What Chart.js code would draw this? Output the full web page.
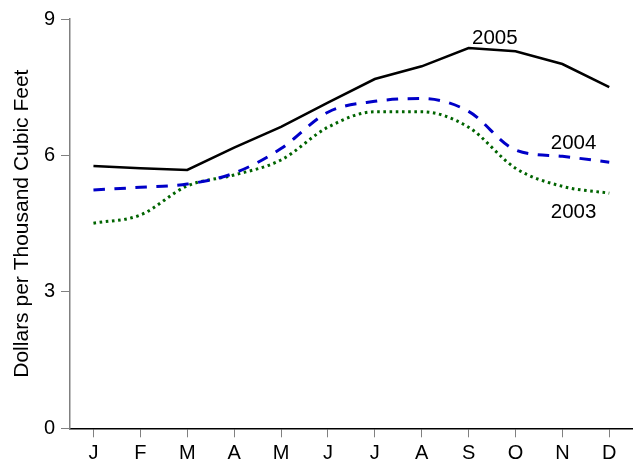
<!DOCTYPE html>
<html>
<head>
<meta charset="utf-8">
<title>Dollars per Thousand Cubic Feet</title>
<script src="https://cdn.jsdelivr.net/npm/chart.js@4"></script>
<style>
    html, body { margin: 0; padding: 0; background: #fff; }
    canvas { display: block; }
</style>
</head>
<body>
<canvas id="price-chart" width="636" height="466"></canvas>
<script>
// Chart data
const months = ['J', 'F', 'M', 'A', 'M', 'J', 'J', 'A', 'S', 'O', 'N', 'D'];
const prices2005 = [5.77, 5.72, 5.68, 6.17, 6.63, 7.16, 7.68, 7.96, 8.36, 8.29, 8.01, 7.50];
const prices2004 = [5.24, 5.30, 5.37, 5.61, 6.15, 6.95, 7.19, 7.25, 6.97, 6.12, 5.98, 5.85];
const prices2003 = [4.51, 4.69, 5.33, 5.57, 5.90, 6.62, 6.96, 6.96, 6.62, 5.72, 5.32, 5.17];
const yTicks = [0, 3, 6, 9];

// Year labels next to the lines: [text, month index, value]
const yearLabels = [
    ['2005', 8.56, 8.45],
    ['2004', 10.24, 6.14],
    ['2003', 10.24, 4.62]
];

const FONT = "'Liberation Sans', Arial, Helvetica, sans-serif";

/**
 * Draw the year labels at data coordinates
 */
const yearLabelPlugin = {
    id: 'yearLabels',
    afterDatasetsDraw: function(chart) {
        const ctx = chart.ctx;
        const xScale = chart.scales.x;
        const yScale = chart.scales.y;
        ctx.save();
        ctx.font = '20.5px ' + FONT;
        ctx.fillStyle = '#000';
        ctx.textAlign = 'center';
        ctx.textBaseline = 'alphabetic';
        yearLabels.forEach(function(item) {
            ctx.fillText(item[0], xScale.getPixelForValue(item[1]), yScale.getPixelForValue(item[2]));
        });
        ctx.restore();
    }
};

const ctx = document.getElementById('price-chart').getContext('2d');

new Chart(ctx, {
    type: 'line',
    data: {
        labels: months,
        datasets: [{
            label: '2005',
            data: prices2005,
            borderColor: '#000000',
            borderWidth: 2.5,
            tension: 0,
            pointRadius: 0
        }, {
            label: '2004',
            data: prices2004,
            borderColor: '#0000c8',
            borderWidth: 3,
            borderDash: [11.5, 9.5],
            cubicInterpolationMode: 'monotone',
            pointRadius: 0
        }, {
            label: '2003',
            data: prices2003,
            borderColor: '#006400',
            borderWidth: 3,
            borderDash: [2.6, 3.6],
            cubicInterpolationMode: 'monotone',
            pointRadius: 0
        }]
    },
    options: {
        responsive: false,
        animation: false,
        layout: {
            padding: { left: 0, top: 19, right: 3.3, bottom: 0 }
        },
        plugins: {
            legend: { display: false },
            tooltip: { enabled: false }
        },
        scales: {
            x: {
                offset: true,
                grid: {
                    drawOnChartArea: false,
                    drawTicks: true,
                    tickLength: 9,
                    color: '#808080',
                    offset: false
                },
                border: { display: true, color: '#000000', width: 1.5 },
                ticks: {
                    color: '#000',
                    padding: 4,
                    maxRotation: 0,
                    autoSkip: false,
                    font: { family: FONT, size: 20 }
                },
                afterFit: function(scale) {
                    scale.height = 37.7;
                }
            },
            y: {
                min: 0,
                max: 9,
                afterBuildTicks: function(scale) {
                    scale.ticks = yTicks.map(function(v) { return { value: v }; });
                },
                grid: {
                    drawOnChartArea: false,
                    drawTicks: true,
                    tickLength: 9,
                    color: '#808080'
                },
                border: { display: true, color: '#808080', width: 1.5 },
                ticks: {
                    color: '#000',
                    padding: 6,
                    font: { family: FONT, size: 20 }
                },
                title: {
                    display: true,
                    text: 'Dollars per Thousand Cubic Feet',
                    color: '#000',
                    padding: { top: 9.5, bottom: 0 },
                    font: { family: FONT, size: 21 }
                },
                afterFit: function(scale) {
                    scale.width = 70;
                }
            }
        }
    },
    plugins: [yearLabelPlugin]
});
</script>
</body>
</html>
